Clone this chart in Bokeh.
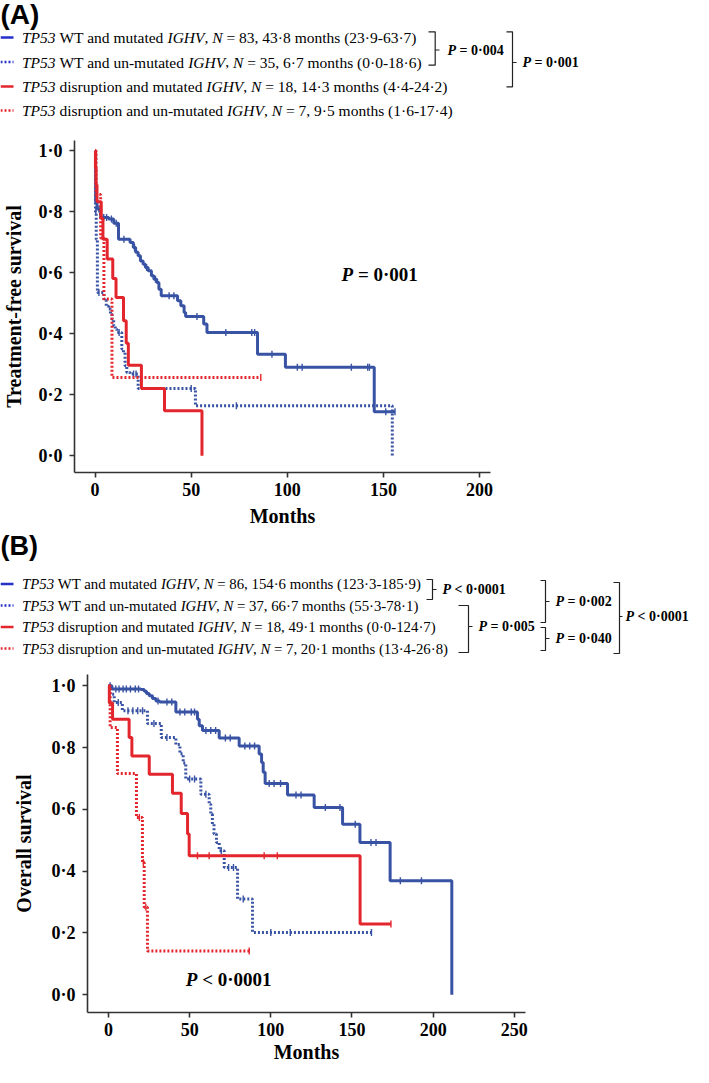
import math
from bokeh.plotting import figure
from bokeh.models import Range1d, FixedTicker, CustomJSTickFormatter
from bokeh.core.properties import value
from bokeh.embed import file_html
from bokeh.resources import INLINE

# ---------------- Panel A: treatment-free survival ----------------
A_wt_mut_t = [0, 0.3, 1.0, 2.9, 7.1, 9.7, 12.2, 18.2, 19.9, 21.1, 22.4, 23.6, 25.0, 26.2, 27.6, 29.3,
              30.6, 32.1, 33.2, 34.4, 42.9, 44.6, 46.3, 47.1, 56.5, 58.2, 84.5, 99.0, 145.2, 156.0]
A_wt_mut_s = [1.0, 0.831, 0.809, 0.781, 0.776, 0.762, 0.710, 0.699, 0.683, 0.667, 0.656, 0.639, 0.628,
              0.617, 0.607, 0.590, 0.579, 0.568, 0.546, 0.525, 0.508, 0.492, 0.470, 0.457, 0.432, 0.404,
              0.333, 0.290, 0.144, 0.144]
A_wt_mut_c = [2.0, 4.5, 6.0, 8.5, 11.0, 15.0, 20.5, 26.8, 31.4, 38.5, 41.0, 53.0, 68.0, 81.5, 83.0,
              92.0, 105.2, 107.7, 133.3, 141.8, 142.7, 151.2, 156.0]

A_wt_unmut_t = [0, 0.2, 0.6, 1.2, 4.6, 5.8, 7.1, 8.0, 8.8, 9.7, 10.5, 11.4, 13.9, 14.8, 15.6, 16.5,
                18.2, 22.4, 52.2, 154.6]
A_wt_unmut_s = [1.0, 0.80, 0.71, 0.535, 0.51, 0.49, 0.481, 0.464, 0.448, 0.426, 0.415, 0.404, 0.35,
                0.339, 0.295, 0.273, 0.268, 0.221, 0.164, 0.0]
A_wt_unmut_c = [0.4, 2.0, 12.5, 20.0, 21.3, 50.0, 73.5]

A_dis_mut_t = [0, 0.2, 0.5, 1.0, 3.2, 4.1, 6.3, 9.2, 10.9, 14.8, 16.2, 17.3, 24.1, 36.1, 55.6]
A_dis_mut_s = [1.0, 0.944, 0.889, 0.833, 0.778, 0.71, 0.645, 0.581, 0.519, 0.443, 0.369, 0.297,
               0.221, 0.148, 0.0]
A_dis_mut_c = [0.3, 0.7]

A_dis_unmut_t = [0, 0.5, 2.9, 4.6, 8.8, 86.2]
A_dis_unmut_s = [1.0, 0.857, 0.714, 0.514, 0.257, 0.257]
A_dis_unmut_c = [86.2]

A_N = [83, 35, 18, 7]
A_median = ["43·8", "6·7", "14·3", "9·5"]
A_ci = ["23·9-63·7", "0·0-18·6", "4·4-24·2", "1·6-17·4"]
A_pairs_p = [("=", "0·004"), ("=", "0·001")]
A_overall_p = ("=", "0·001")

# ---------------- Panel B: overall survival ----------------
B_wt_mut_t = [0, 2.1, 19.9, 22.0, 23.4, 25.1, 27.1, 29.2, 31.6, 41.5, 54.8, 55.9, 57.9, 68.2, 80.5,
              92.8, 94.3, 95.3, 96.5, 110.3, 126.7, 144.2, 154.9, 173.5, 211.5]
B_wt_mut_s = [1.0, 0.99, 0.988, 0.982, 0.975, 0.968, 0.959, 0.951, 0.948, 0.915, 0.892, 0.871, 0.855,
              0.831, 0.805, 0.779, 0.752, 0.72, 0.684, 0.647, 0.606, 0.552, 0.493, 0.369, 0.0]
B_wt_mut_c = [1.0, 4.5, 6.5, 9.0, 11.0, 13.5, 16.5, 18.5, 30.5, 36.0, 39.0, 44.0, 47.0, 51.0, 53.0,
              60.0, 63.0, 66.0, 72.0, 75.0, 84.0, 87.0, 90.0, 99.0, 102.0, 106.0, 115.5, 118.6, 133.6,
              142.6, 152.0, 161.7, 164.8, 179.8, 192.8]

B_wt_unmut_t = [0, 1.0, 3.5, 8.5, 24.0, 32.5, 41.5, 44.0, 46.0, 47.6, 56.9, 62.0, 63.0, 64.0, 65.0,
                66.5, 68.2, 71.3, 79.5, 88.7, 162.0]
B_wt_unmut_s = [1.0, 0.973, 0.946, 0.919, 0.878, 0.833, 0.81, 0.78, 0.75, 0.698, 0.649, 0.617, 0.585,
                0.552, 0.52, 0.493, 0.466, 0.412, 0.31, 0.202, 0.202]
B_wt_unmut_c = [6.0, 12.0, 15.0, 18.0, 21.0, 28.0, 36.0, 50.0, 53.0, 60.0, 69.5, 74.0, 77.0, 83.0,
                100.0, 112.0, 162.0]

B_dis_mut_t = [0, 0.5, 2.5, 12.7, 14.4, 25.1, 39.4, 44.8, 48.7, 49.7, 155.0, 174.0]
B_dis_mut_s = [1.0, 0.944, 0.892, 0.833, 0.773, 0.714, 0.652, 0.587, 0.52, 0.45, 0.229, 0.229]
B_dis_mut_c = [54.8, 62.0, 95.9, 104.0, 174.0]

B_dis_unmut_t = [0, 1.0, 5.5, 17.2, 20.9, 22.0, 24.0, 86.7]
B_dis_unmut_s = [1.0, 0.865, 0.716, 0.574, 0.428, 0.283, 0.142, 0.142]
B_dis_unmut_c = [19.0, 21.5, 23.0, 86.7]

B_N = [86, 37, 18, 7]
B_median = ["154·6", "66·7", "49·1", "20·1"]
B_ci = ["123·3-185·9", "55·3-78·1", "0·0-124·7", "13·4-26·8"]
B_pairs_p = [("<", "0·0001"), ("=", "0·005"), ("=", "0·002"), ("=", "0·040"), ("<", "0·0001")]
B_overall_p = ("<", "0·0001")

GROUPS = ["WT and mutated", "WT and un-mutated", "disruption and mutated", "disruption and un-mutated"]

A_xticks = [0, 50, 100, 150, 200]
B_xticks = [0, 50, 100, 150, 200, 250]
Y_ticks = [0.0, 0.2, 0.4, 0.6, 0.8, 1.0]

# ---------------- styling ----------------
W = 693
SERIF = "Liberation Serif"
SANS = "Liberation Sans"
BLUE = "#3853a4"
RED = "#e3262d"
LBLUE = "#2430c8"
LRED = "#e3262d"
STYLES = [(BLUE, None), (BLUE, "2 2"), (RED, None), (RED, "2 2")]
LSTYLES = [(LBLUE, None), (LBLUE, "2 2"), (LRED, None), (LRED, "2 2")]

# Times / Liberation Serif advance widths (per 1000 em)
REG = {' ': 250, '(': 333, ')': 333, ',': 250, '-': 333, '.': 250, '·': 250, '=': 564, '<': 564,
       'W': 944, 'T': 611, 'a': 444, 'b': 500, 'd': 500, 'e': 444, 'h': 500, 'i': 278, 'm': 778,
       'n': 500, 'o': 500, 'p': 500, 'r': 333, 's': 389, 't': 278, 'u': 500}
for _d in "0123456789":
    REG[_d] = 500
ITA = {' ': 250, 'T': 556, 'P': 611, '5': 500, '3': 500, 'I': 333, 'G': 722, 'H': 722, 'V': 611, 'N': 667}
BOLD = {' ': 250, '=': 570, '<': 570, '·': 250, 'P': 611}
for _d in "0123456789":
    BOLD[_d] = 500
TABLES = {"normal": REG, "italic": ITA, "bold": BOLD, "bold italic": {'P': 611, ' ': 250}}


def tw(txt, style, size):
    tab = TABLES[style]
    return sum(tab.get(c, 500) for c in txt) / 1000.0 * size


def step_at(t, s, x):
    v = s[0]
    for ti, si in zip(t, s):
        if ti <= x:
            v = si
        else:
            break
    return v


def blank(h):
    f = figure(width=W, height=h, x_range=Range1d(0, W), y_range=Range1d(h, 0),
               x_axis_location=None, y_axis_location=None, toolbar_location=None,
               output_backend="svg", min_border=0, title=None)
    f.outline_line_color = None
    f.grid.visible = False
    return f


def emit_parts(f, x, y, parts, font, size):
    """parts: list of (text, style). SVG drops leading spaces, so advance explicitly."""
    by_style = {}
    for t, st in parts:
        lead = len(t) - len(t.lstrip(" "))
        core = t.strip(" ")
        if core:
            xe = x + tw(t[:lead], st, size)
            d = by_style.setdefault(st, ([], [], []))
            d[0].append(xe)
            d[1].append(y)
            d[2].append(core)
        x += tw(t, st, size)
    for st, (xs, ys, ts) in by_style.items():
        f.text(x=xs, y=ys, text=ts, text_font=value(font), text_font_size="%gpx" % size,
               text_font_style=st, text_baseline="middle", text_align="left", text_color="black")


def legend(f, rows_y, N, med, ci, size, text_x, sample_x0, sample_x1):
    for i, y in enumerate(rows_y):
        parts = [("TP53", "italic"), (" " + GROUPS[i] + " ", "normal"), ("IGHV", "italic"),
                 (", ", "normal"), ("N", "italic"),
                 (" = %d, %s months (%s)" % (N[i], med[i], ci[i]), "normal")]
        emit_parts(f, text_x, y, parts, SERIF, size)
        col, dash = LSTYLES[i]
        kw = dict(line_color=col, line_width=2.6)
        if dash:
            kw["line_dash"] = dash
        f.line(x=[sample_x0, sample_x1], y=[y, y], **kw)


def bracket(f, x_stub, x_v, y_top, y_bot, y_mid, tick_end, text_x, sign, pval, size):
    f.line(x=[x_stub, x_v, x_v, x_stub], y=[y_top, y_top, y_bot, y_bot], line_color="#222222",
           line_width=1.2)
    f.line(x=[x_v, tick_end], y=[y_mid, y_mid], line_color="#222222", line_width=1.2)
    emit_parts(f, text_x, y_mid, [("P", "bold italic"), (" %s %s" % (sign, pval), "bold")], SERIF, size)


def km_plot(h, left, right, top, bottom, xr, yr, xticks, xlabel, ylabel, ystand, xstand):
    f = figure(width=W, height=h, x_range=Range1d(*xr), y_range=Range1d(*yr),
               toolbar_location=None, output_backend="svg", title=None,
               min_border_left=left, min_border_right=right, min_border_top=top,
               min_border_bottom=bottom)
    f.grid.visible = False
    f.outline_line_color = None
    for ax in (f.xaxis[0], f.yaxis[0]):
        ax.axis_line_width = 1.6
        ax.axis_line_color = "#333333"
        ax.major_tick_line_color = "#333333"
        ax.major_tick_line_width = 1.6
        ax.major_tick_out = 5
        ax.major_tick_in = 0
        ax.minor_tick_line_color = None
        ax.major_label_text_font = SERIF
        ax.major_label_text_font_style = "bold"
        ax.major_label_text_font_size = "18px"
        ax.major_label_text_color = "black"
        ax.axis_label_text_font = SERIF
        ax.axis_label_text_font_style = "bold"
        ax.axis_label_text_font_size = "20px"
        ax.axis_label_text_color = "black"
    f.xaxis[0].ticker = FixedTicker(ticks=xticks)
    f.yaxis[0].ticker = FixedTicker(ticks=Y_ticks)
    f.yaxis[0].formatter = CustomJSTickFormatter(code="return tick.toFixed(1).replace('.', '\u00b7');")
    f.xaxis[0].major_label_standoff = 5
    f.yaxis[0].major_label_standoff = 7
    f.xaxis[0].axis_label = xlabel
    f.yaxis[0].axis_label = ylabel
    f.xaxis[0].axis_label_standoff = xstand
    f.yaxis[0].axis_label_standoff = ystand
    return f


def curves(f, series):
    for (t, s, c), (col, dash) in zip(series, STYLES):
        kw = dict(line_color=col, line_width=3)
        if dash:
            kw["line_dash"] = dash
        f.step(x=t, y=s, mode="after", **kw)
        cy = [step_at(t, s, x) for x in c]
        f.scatter(x=c, y=cy, marker="dash", angle=math.pi / 2, size=7, line_color=col,
                  line_width=1.4)


def ptext(f, x, y, sign, pval, size):
    wp = tw("P ", "bold italic", size)
    f.text(x=[x], y=[y], text=["P"], text_font=value(SERIF), text_font_style="bold italic",
           text_font_size="%gpx" % size, text_baseline="middle", text_align="left", text_color="black")
    f.text(x=[x], y=[y], x_offset=wp, text=["%s %s" % (sign, pval)], text_font=value(SERIF),
           text_font_style="bold", text_font_size="%gpx" % size, text_baseline="middle",
           text_align="left", text_color="black")


# ---------------- header A (page y 8..140) ----------------
hA = blank(132)
hA.text(x=[0], y=[14], text=["(A)"], text_font=value(SANS), text_font_style="bold",
        text_font_size="28px", text_baseline="middle", text_align="left", text_color="black")
legend(hA, [37, 61.5, 86, 110], A_N, A_median, A_ci, 15.5, 21.5, 0, 13)
bracket(hA, 428, 434.7, 31.3, 64.7, 49.5, 439, 447, A_pairs_p[0][0], A_pairs_p[0][1], 14)
bracket(hA, 506, 512, 31.3, 86.3, 62, 516, 522, A_pairs_p[1][0], A_pairs_p[1][1], 14)

# ---------------- plot A (page y 140..540) ----------------
pA = km_plot(400, 67, 203, 8, 60, (-10.7, 205.67), (-0.0548, 1.0337), A_xticks,
             "Months", "Treatment-free survival", 10, 6)
curves(pA, [(A_wt_mut_t, A_wt_mut_s, A_wt_mut_c), (A_wt_unmut_t, A_wt_unmut_s, A_wt_unmut_c),
            (A_dis_mut_t, A_dis_mut_s, A_dis_mut_c), (A_dis_unmut_t, A_dis_unmut_s, A_dis_unmut_c)])
ptext(pA, 128.2, 0.595, A_overall_p[0], A_overall_p[1], 19)

# ---------------- header B (page y 540..667) ----------------
hB = blank(127)
hB.text(x=[0], y=[13], text=["(B)"], text_font=value(SANS), text_font_style="bold",
        text_font_size="27px", text_baseline="middle", text_align="left", text_color="black")
legend(hB, [51.5, 73, 94.5, 116], B_N, B_median, B_ci, 14.8, 21.5, 0, 13)
bracket(hB, 426, 432, 47, 67, 57, 436, 442, B_pairs_p[0][0], B_pairs_p[0][1], 14)
bracket(hB, 458, 468, 73, 120, 94, 472, 478, B_pairs_p[1][0], B_pairs_p[1][1], 14)
bracket(hB, 540, 545, 48, 90, 69, 549, 555, B_pairs_p[2][0], B_pairs_p[2][1], 14)
bracket(hB, 540, 545, 95, 118, 106, 549, 555, B_pairs_p[3][0], B_pairs_p[3][1], 14)
bracket(hB, 613, 619, 50, 121, 84, 622, 625, B_pairs_p[4][0], B_pairs_p[4][1], 14)

# ---------------- plot B (page y 667..1075) ----------------
pB = km_plot(408, 87, 168, 15, 55, (-12.94, 256.9), (-0.0573, 1.0366), B_xticks,
             "Months", "Overall survival", 13, 2)
curves(pB, [(B_wt_mut_t, B_wt_mut_s, B_wt_mut_c), (B_wt_unmut_t, B_wt_unmut_s, B_wt_unmut_c),
            (B_dis_mut_t, B_dis_mut_s, B_dis_mut_c), (B_dis_unmut_t, B_dis_unmut_s, B_dis_unmut_c)])
ptext(pB, 47.6, 0.0505, B_overall_p[0], B_overall_p[1], 19)

# separate roots so that Bokeh does not align the frames of the stacked figures
page = [hA, pA, hB, pB]
open("out.html", "w").write(file_html(page, INLINE))
